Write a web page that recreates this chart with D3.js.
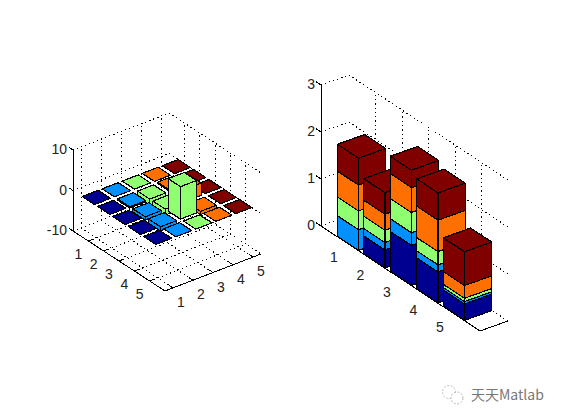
<!DOCTYPE html>
<html><head><meta charset="utf-8">
<script src="https://cdn.jsdelivr.net/npm/d3@7"></script>
<style>html,body{margin:0;padding:0;background:#fff}svg{display:block}text{font-family:"Liberation Sans",Arial,sans-serif}</style>
</head><body><svg id="c" width="561" height="420"></svg>
<script>
const ticks = [1, 2, 3, 4, 5];
const colors = ["#000090", "#0090ff", "#90ff70", "#ff7000", "#800000"];
// Left chart: one list per x position, values for y = 1..5
const leftX1 = [0, 0, 0, 0, 0];
const leftX2 = [0, -0.3, -0.8, -1, 0];
const leftX3 = [0, -1.5, -1.5, 8, 0];
const leftX4 = [0, 0.3, 3, -0.8, 0];
const leftX5 = [0, 0, 0, 0, 0];
const leftZTicks = [-10, 0, 10];
// Right chart: stacked layers, values for y = 1..5
const layer1 = [0, 0.38, 0.85, 0.66, 0.35];
const layer2 = [0.44, 0.16, 0.27, 0.15, 0.05];
const layer3 = [0.40, 0.26, 0.43, 0.28, 0.07];
const layer4 = [0.55, 0.34, 0.53, 0.67, 0.27];
const layer5 = [0.57, 0.46, 0.37, 0.58, 0.72];
const rightZTicks = [0, 1, 2, 3];

const svg = d3.select("#c");

function makeAxes(cfg) {
  const xX = d3.scaleLinear().domain(cfg.xd).range([0, cfg.xv[0]]);
  const xY = d3.scaleLinear().domain(cfg.xd).range([0, cfg.xv[1]]);
  const yX = d3.scaleLinear().domain(cfg.yd).range([0, cfg.yv[0]]);
  const yY = d3.scaleLinear().domain(cfg.yd).range([0, cfg.yv[1]]);
  const zY = d3.scaleLinear().domain(cfg.zd).range(cfg.zr);
  const P = (x, y, z) => [cfg.left + xX(x) + yX(y), xY(x) + yY(y) + zY(z)];
  const g = svg.append("g");
  const seg = (a, b, solid) => g.append("line")
    .attr("x1", a[0]).attr("y1", a[1]).attr("x2", b[0]).attr("y2", b[1])
    .attr("stroke", "#000").attr("stroke-width", 1)
    .attr("stroke-dasharray", solid ? null : "1.3 3")
    .attr("shape-rendering", "crispEdges");
  const [x0, x1] = cfg.xd, [y0, y1] = cfg.yd, [z0, z1] = cfg.zd;
  // grid on walls and floor
  cfg.zt.forEach(z => { seg(P(x0, y0, z), P(x1, y0, z)); seg(P(x1, y0, z), P(x1, y1, z)); });
  cfg.xt.forEach(x => { seg(P(x, y0, z0), P(x, y0, z1)); seg(P(x, y0, z0), P(x, y1, z0)); });
  ticks.forEach(y => { seg(P(x1, y, z0), P(x1, y, z1)); seg(P(x0, y, z0), P(x1, y, z0)); });
  // axes
  seg(P(x0, y0, z0), P(x0, y0, z1), true);
  seg(P(x0, y0, z0), P(x0, y1, z0), true);
  seg(P(x0, y1, z0), P(x1, y1, z0), true);
  const label = (t, x, y, anchor) => svg.append("text").attr("x", x).attr("y", y)
    .attr("text-anchor", anchor || "middle").attr("dominant-baseline", "central")
    .attr("font-size", 14).attr("fill", "#222").text(t);
  cfg.zt.forEach(z => {
    const p = P(x0, y0, z);
    seg(p, P(x0, y0 + cfg.zTick, z), true);
    label(z, p[0] - 6, p[1] - 1, "end");
  });
  ticks.forEach(y => {
    const p = P(x0, y, z0);
    seg(p, P(x0 + cfg.yTick, y, z0), true);
    label(y, p[0] + cfg.yl[0], p[1] + cfg.yl[1]);
  });
  cfg.xt.forEach(x => {
    const p = P(x, y1, z0);
    seg(p, P(x, y1 - 0.25, z0), true);
    label(x, p[0] + cfg.xl[0], p[1] + cfg.xl[1]);
  });
  return P;
}

function box(P, x, y, hx, hy, za, zb, color) {
  const lo = Math.min(za, zb), hi = Math.max(za, zb);
  const poly = pts => svg.append("polygon").attr("points", pts.map(p => p.join(",")).join(" "))
    .attr("fill", color).attr("stroke", "#000").attr("stroke-width", 1.2)
    .attr("stroke-linejoin", "round").attr("shape-rendering", "crispEdges");
  const a = x - hx, b = x + hx, c = y - hy, d = y + hy;
  poly([P(a, c, lo), P(a, d, lo), P(a, d, hi), P(a, c, hi)]);
  poly([P(a, d, lo), P(b, d, lo), P(b, d, hi), P(a, d, hi)]);
  poly([P(a, c, hi), P(a, d, hi), P(b, d, hi), P(b, c, hi)]);
}

// Left chart
const PL = makeAxes({ left: 73, xd: [0.6, 5.4], xv: [96, -37], yd: [0, 6], yv: [92, 60],
  zd: [-10, 10], zr: [231, 150], zt: leftZTicks, xt: ticks, zTick: -0.25, yTick: 0.2,
  yl: [-10, 13], xl: [8, 14] });
const leftRows = [leftX1, leftX2, leftX3, leftX4, leftX5];
const leftBars = [];
leftRows.forEach((row, i) => row.forEach((v, j) => leftBars.push({ x: i + 1, y: j + 1, v, c: colors[i] })));
leftBars.sort((a, b) => (a.y - a.x) - (b.y - b.x));
leftBars.forEach(d => box(PL, d.x, d.y, 0.4, 0.4, 0, d.v, d.c));

// Right chart
const PR = makeAxes({ left: 321, xd: [0.6, 1.4], xv: [28, -10], yd: [0, 6], yv: [159, 105],
  zd: [0, 3], zr: [226, 85], zt: rightZTicks, xt: [], zTick: -0.2, yTick: 0.18,
  yl: [-13.5, 13.5], xl: [0, 0] });
const layers = [layer1, layer2, layer3, layer4, layer5];
ticks.forEach((y, j) => {
  let base = 0;
  layers.forEach((l, k) => {
    if (l[j] > 0) box(PR, 1, y, 0.39, 0.4, base, base + l[j], colors[k]);
    base += l[j];
  });
});

// Watermark
const wm = svg.append("g").attr("opacity", 0.6);
wm.append("circle").attr("cx", 449).attr("cy", 392).attr("r", 6.5).attr("fill", "none").attr("stroke", "#999").attr("stroke-dasharray", "2 1.5");
wm.append("circle").attr("cx", 457).attr("cy", 398).attr("r", 6).attr("fill", "#fff").attr("stroke", "#888").attr("stroke-dasharray", "2 1.5");
svg.append("text").attr("x", 471).attr("y", 400).attr("font-size", 14).attr("fill", "#777")
  .style("font-family", '"Noto Sans CJK SC","Liberation Sans",sans-serif').text("天天Matlab");
</script></body></html>
